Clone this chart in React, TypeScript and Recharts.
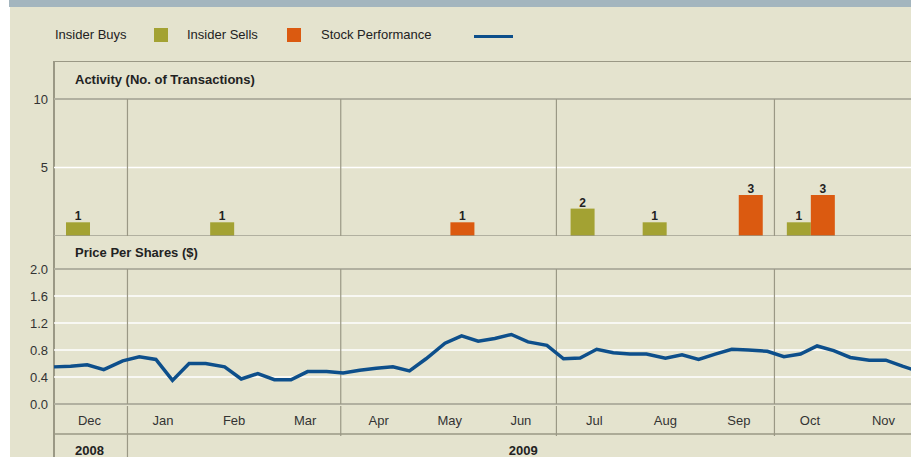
import React from "react";
import {
  BarChart,
  Bar,
  LineChart,
  Line,
  XAxis,
  YAxis,
  CartesianGrid,
  ReferenceLine,
  LabelList,
} from "recharts";

const months = ["Dec", "Jan", "Feb", "Mar", "Apr", "May", "Jun", "Jul", "Aug", "Sep", "Oct", "Nov"];
const insiderBuys = [1, 0, 1, 0, 0, 0, 0, 2, 1, 0, 1, 0];
const insiderSells = [0, 0, 0, 0, 0, 1, 0, 0, 0, 3, 3, 0];

// days counted from 1 Dec 2008
const monthStartDays = [0, 31, 62, 90, 121, 151, 182, 212, 243, 274, 304, 335];
const monthMidDays = [15, 46, 76, 106, 137, 167, 197, 228, 258, 289, 319, 350];
const quarterStartDays = [31, 121, 212, 304];
const years = ["2008", "2009"];
const yearMidDays = [15, 198];

const priceDays = [
  0, 7, 14, 21, 29, 36, 43, 50, 57, 64, 72, 79, 86, 93, 100, 107, 115, 122, 129, 136,
  143, 150, 157, 165, 172, 179, 186, 193, 200, 208, 215, 222, 229, 236, 243, 250, 258,
  265, 272, 279, 286, 293, 301, 308, 315, 322, 329, 336, 344, 351, 358, 365,
];
const priceValues = [
  0.55, 0.56, 0.58, 0.51, 0.64, 0.7, 0.66, 0.35, 0.6, 0.6, 0.55, 0.37, 0.45, 0.36, 0.36,
  0.48, 0.48, 0.46, 0.5, 0.53, 0.55, 0.49, 0.67, 0.9, 1.01, 0.93, 0.97, 1.03, 0.92, 0.87,
  0.67, 0.68, 0.81, 0.76, 0.74, 0.74, 0.68, 0.73, 0.66, 0.74, 0.81, 0.8, 0.78, 0.7, 0.74,
  0.86, 0.79, 0.69, 0.65, 0.65, 0.56, 0.48,
];

const FONT = '"Liberation Sans", Arial, sans-serif';
const BG = "#e4e3ce";
const RULE = "#9a9885";
const TEXT = "#222";
const OLIVE = "#a3a233";
const ORANGE = "#db5a10";
const BLUE = "#0d4f8b";

const monthAxisTicks = [...monthMidDays, ...quarterStartDays].sort((a, b) => a - b);

function MonthTick(props: any) {
  const { x, y, payload } = props;
  const v = payload.value;
  if (quarterStartDays.includes(v)) {
    // Jan line runs on through the year row
    const depth = v === quarterStartDays[0] ? 60 : 30;
    return <line x1={x} x2={x} y1={y} y2={y + depth} stroke={RULE} strokeWidth={1.2} />;
  }
  return (
    <text x={x} y={y + 19} textAnchor="middle" fontSize={13} fill="#333">
      {months[monthMidDays.indexOf(v)]}
    </text>
  );
}

function YearTick(props: any) {
  const { x, y, payload } = props;
  return (
    <text x={x} y={y + 19} textAnchor="middle" fontSize={13} fontWeight={700} fill={TEXT}>
      {years[yearMidDays.indexOf(payload.value)]}
    </text>
  );
}

const hideZero = (v: any) => (v ? v : "");

export default function App() {
  const activityData = months.map((month, i) => ({
    month,
    start: monthStartDays[i],
    buys: insiderBuys[i],
    sells: insiderSells[i],
  }));
  const priceData = priceDays.map((day, i) => ({ day, price: priceValues[i] }));

  const legendText = { position: "absolute" as const, top: 27, fontSize: 13, lineHeight: "16px", color: TEXT };

  return (
    <div
      style={{
        position: "absolute",
        left: 0,
        top: 0,
        width: 911,
        height: 457,
        overflow: "hidden",
        background: "#fff",
        fontFamily: FONT,
      }}
    >
      <div style={{ position: "absolute", left: 9, top: 0, width: 902, height: 7, background: "#a3b5be" }} />
      <div style={{ position: "absolute", left: 10, top: 7, right: 0, bottom: 0, background: BG }} />

      {/* Legend */}
      <span style={{ ...legendText, left: 55 }}>Insider Buys</span>
      <div style={{ position: "absolute", left: 154, top: 28, width: 14, height: 14, background: OLIVE }} />
      <span style={{ ...legendText, left: 187 }}>Insider Sells</span>
      <div style={{ position: "absolute", left: 287, top: 28, width: 14, height: 14, background: ORANGE }} />
      <span style={{ ...legendText, left: 321 }}>Stock Performance</span>
      <div style={{ position: "absolute", left: 474, top: 35, width: 39, height: 3, background: BLUE }} />

      {/* Frame: left rule and top of the activity header */}
      <div style={{ position: "absolute", left: 53, top: 61, width: 1.5, height: 400, background: RULE }} />
      <div style={{ position: "absolute", left: 53, top: 60.5, width: 870, height: 1.5, background: RULE }} />

      <span style={{ position: "absolute", left: 75, top: 72, fontSize: 13, lineHeight: "16px", fontWeight: 700, color: TEXT }}>
        Activity (No. of Transactions)
      </span>
      <span style={{ position: "absolute", left: 75, top: 245, fontSize: 13, lineHeight: "16px", fontWeight: 700, color: TEXT }}>
        Price Per Shares ($)
      </span>

      {/* Activity bars */}
      <div style={{ position: "absolute", left: 0, top: 61 }}>
        <BarChart
          width={930}
          height={175}
          data={activityData}
          margin={{ top: 38, right: 11, bottom: 0, left: 0 }}
          barGap={0}
          barSize={24}
        >
          <CartesianGrid vertical={false} stroke="#fff" strokeWidth={1.5} />
          <XAxis dataKey="month" hide />
          <XAxis
            xAxisId="days"
            dataKey="start"
            type="number"
            domain={[0, 365]}
            allowDataOverflow
            hide
          />
          <YAxis
            width={54}
            domain={[0, 10]}
            ticks={[0, 5, 10]}
            axisLine={false}
            tickLine={false}
            tickSize={0}
            tickMargin={6}
            tick={{ fontSize: 13, fill: "#333" }}
          />
          <ReferenceLine y={10} stroke={RULE} strokeWidth={1.5} />
          {quarterStartDays.map((d) => (
            <ReferenceLine key={d} xAxisId="days" x={d} stroke={RULE} strokeWidth={1.2} />
          ))}
          <Bar dataKey="buys" fill={OLIVE} isAnimationActive={false}>
            <LabelList
              dataKey="buys"
              position="top"
              offset={2}
              formatter={hideZero}
              fontSize={12}
              fontWeight={700}
              fill={TEXT}
            />
          </Bar>
          <Bar dataKey="sells" fill={ORANGE} isAnimationActive={false}>
            <LabelList
              dataKey="sells"
              position="top"
              offset={2}
              formatter={hideZero}
              fontSize={12}
              fontWeight={700}
              fill={TEXT}
            />
          </Bar>
          <ReferenceLine y={0} stroke={RULE} strokeWidth={1.5} />
        </BarChart>
      </div>

      {/* Share price */}
      <div style={{ position: "absolute", left: 0, top: 236 }}>
        <LineChart
          width={930}
          height={221}
          data={priceData}
          margin={{ top: 33, right: 11, bottom: 0, left: 0 }}
        >
          <CartesianGrid vertical={false} stroke="#fff" strokeWidth={1.5} />
          <XAxis
            dataKey="day"
            type="number"
            domain={[0, 365]}
            ticks={monthAxisTicks}
            interval={0}
            height={30}
            tickSize={0}
            tickLine={false}
            axisLine={{ stroke: RULE, strokeWidth: 1.5 }}
            tick={<MonthTick />}
          />
          <XAxis
            xAxisId="year"
            dataKey="day"
            type="number"
            domain={[0, 365]}
            ticks={yearMidDays}
            interval={0}
            height={23}
            tickSize={0}
            tickLine={false}
            axisLine={{ stroke: RULE, strokeWidth: 1.5 }}
            tick={<YearTick />}
          />
          <YAxis
            width={54}
            domain={[0, 2]}
            ticks={[0, 0.4, 0.8, 1.2, 1.6, 2]}
            tickFormatter={(v: number) => v.toFixed(1)}
            axisLine={false}
            tickLine={false}
            tickSize={0}
            tickMargin={6}
            tick={{ fontSize: 13, fill: "#333" }}
          />
          <ReferenceLine y={2} stroke={RULE} strokeWidth={1.5} />
          {quarterStartDays.map((d) => (
            <ReferenceLine key={d} x={d} stroke={RULE} strokeWidth={1.2} />
          ))}
          <Line
            type="linear"
            dataKey="price"
            stroke={BLUE}
            strokeWidth={3.5}
            dot={false}
            isAnimationActive={false}
          />
        </LineChart>
      </div>
    </div>
  );
}
